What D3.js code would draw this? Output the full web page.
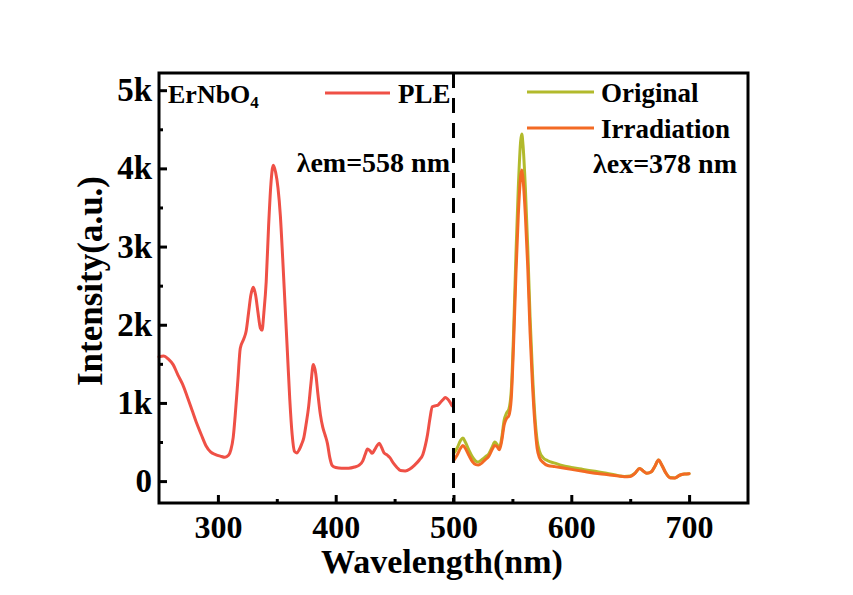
<!DOCTYPE html>
<html>
<head>
<meta charset="utf-8">
<script src="https://cdn.jsdelivr.net/npm/d3@7"></script>
<style>
  html, body { margin: 0; padding: 0; background: #fff; }
  svg text { font-family: "Liberation Serif", "Times New Roman", serif; font-weight: bold; fill: #000; }
</style>
</head>
<body>
<svg id="chart" width="853" height="595"></svg>
<script>
// Excitation spectrum (PLE, λem = 558 nm): [wavelength nm, intensity]
const pleData = [
  [250,1590],[254,1600],[258,1560],[262,1490],[266,1360],[270,1240],[274,1080],[278,910],
  [282,740],[286,590],[290,450],[294,370],[298,340],[302,320],[306,305],[309,330],[311,400],
  [313,560],[315,900],[317,1300],[319,1700],[322,1820],[324,1920],[326,2150],[328,2380],
  [330,2480],[332,2380],[334,2160],[336,1960],[337.5,1930],[339,2150],[341,2550],[343,3250],
  [345,3800],[347,4040],[349,3950],[351,3750],[353,3400],[355,2850],[357,2250],[359,1650],
  [361,1050],[363,600],[365,380],[367,360],[369,400],[371,470],[373,560],[375,740],[377,950],
  [379,1250],[381,1490],[383,1380],[385,1100],[387,850],[389,690],[391,590],[393,480],
  [395,300],[397,200],[400,175],[405,165],[411,165],[416,180],[420,205],[423,260],[425,340],
  [427,410],[429,390],[431,355],[433,400],[435,450],[437,485],[439,430],[441,360],[444,330],
  [446,300],[449,230],[452,175],[455,135],[459,130],[463,155],[467,205],[471,270],[474,340],
  [476,450],[478,600],[480,800],[482,950],[485,965],[487,975],[489,1010],[491,1040],
  [493,1070],[495,1050],[497,1010],[499,960],[500,950]
];

// Emission spectra (λex = 378 nm) before and after irradiation
const originalData = [
  [500,350],[503,420],[506,520],[508,550],[510,500],[513,400],[516,310],[519,255],[521,245],
  [524,275],[527,310],[530,350],[533,440],[535,500],[537,470],[539,420],[541,560],[543,780],
  [545,870],[547,920],[549,1150],[551,1900],[553,2900],[555,3750],[557,4350],[558,4440],
  [559,4300],[561,3750],[563,3000],[565,2100],[567,1400],[569,850],[571,520],[573,380],
  [576,300],[580,260],[586,230],[592,200],[600,175],[610,150],[620,125],[630,100],[640,70],
  [645,60],[650,65],[654,100],[658,160],[661,130],[664,100],[668,120],[671,190],[674,270],
  [677,200],[680,110],[684,45],[688,40],[692,75],[696,90],[700,95]
];
const irradiationData = [
  [500,260],[503,330],[506,420],[508,455],[510,420],[513,330],[516,250],[519,210],[521,205],
  [524,230],[527,275],[530,320],[533,410],[535,455],[537,440],[539,400],[541,520],[543,720],
  [545,800],[547,840],[549,1050],[551,1750],[553,2650],[555,3400],[557,3900],[558,3980],
  [559,3870],[561,3400],[563,2750],[565,1900],[567,1250],[569,750],[571,420],[573,300],
  [576,240],[580,200],[586,185],[592,170],[600,150],[610,125],[620,100],[630,85],[640,65],
  [645,55],[650,60],[654,100],[658,160],[661,130],[664,100],[668,120],[671,190],[674,270],
  [677,200],[680,110],[684,40],[688,40],[692,75],[696,90],[700,95]
];

const xMajorTicks = [300, 400, 500, 600, 700];
const xMinorTicks = [350, 450, 550, 650];
const yMajorTicks = [0, 1000, 2000, 3000, 4000, 5000];
const yTickLabels = ["0", "1k", "2k", "3k", "4k", "5k"];
const yMinorTicks = [500, 1500, 2500, 3500, 4500];
const splitWavelength = 500;

const colors = { ple: "#EF5046", original: "#B2BA2C", irradiation: "#F36A24" };

const svg = d3.select("#chart");
const plot = { left: 159, right: 748, top: 73, bottom: 503 };

const x = d3.scaleLinear().domain([250, 750]).range([plot.left, plot.right]);
const y = d3.scaleLinear().domain([-280, 5220]).range([plot.bottom, plot.top]);

const line = d3.line().x(d => x(d[0])).y(d => y(d[1])).curve(d3.curveMonotoneX);

// data curves
const curves = svg.append("g").attr("fill", "none").attr("stroke-width", 3)
  .attr("stroke-linejoin", "round").attr("stroke-linecap", "round");
curves.append("path").datum(pleData).attr("stroke", colors.ple).attr("d", line);
curves.append("path").datum(originalData).attr("stroke", colors.original).attr("d", line);
curves.append("path").datum(irradiationData).attr("stroke", colors.irradiation).attr("d", line);

// dashed separator between excitation and emission
svg.append("line")
  .attr("x1", x(splitWavelength)).attr("x2", x(splitWavelength))
  .attr("y1", plot.top).attr("y2", plot.bottom)
  .attr("stroke", "#000").attr("stroke-width", 3).attr("stroke-dasharray", "15,10");

// axes (ticks pointing inward)
const xAxis = svg.append("g").attr("transform", `translate(0,${plot.bottom})`)
  .call(d3.axisBottom(x).tickValues(xMajorTicks).tickSize(-8).tickPadding(12.5).tickFormat(d3.format("d")));
const xMinor = svg.append("g").attr("transform", `translate(0,${plot.bottom})`)
  .call(d3.axisBottom(x).tickValues(xMinorTicks).tickSize(-4).tickFormat(""));
const yAxis = svg.append("g").attr("transform", `translate(${plot.left},0)`)
  .call(d3.axisLeft(y).tickValues(yMajorTicks).tickSize(-8).tickPadding(7)
    .tickFormat((d, i) => yTickLabels[i]));
const yMinor = svg.append("g").attr("transform", `translate(${plot.left},0)`)
  .call(d3.axisLeft(y).tickValues(yMinorTicks).tickSize(-4).tickFormat(""));

[xAxis, xMinor, yAxis, yMinor].forEach(g => {
  g.attr("font-family", null).attr("font-size", null);
  g.select(".domain").remove();
  g.selectAll(".tick line").attr("stroke", "#000").attr("stroke-width", 3);
  g.selectAll("text").style("font-size", "33px");
});
xAxis.selectAll("text").style("font-size", "32px");

// frame
svg.append("rect").attr("x", plot.left).attr("y", plot.top)
  .attr("width", plot.right - plot.left).attr("height", plot.bottom - plot.top)
  .attr("fill", "none").attr("stroke", "#000").attr("stroke-width", 3);

// axis titles
svg.append("text").attr("x", 442).attr("y", 573).attr("text-anchor", "middle")
  .style("font-size", "34px").text("Wavelength(nm)");
svg.append("text").attr("transform", "translate(102,281) rotate(-90)").attr("text-anchor", "middle")
  .style("font-size", "35px").text("Intensity(a.u.)");

// sample name
const sampleLabel = svg.append("text").attr("x", 168).attr("y", 103).style("font-size", "26px");
sampleLabel.append("tspan").text("ErNbO");
sampleLabel.append("tspan").attr("dy", 5).style("font-size", "17px").text("4");

// legend
const legend = [
  { label: "PLE", color: colors.ple, x1: 325, x2: 390, y: 93, tx: 398, ty: 103 },
  { label: "Original", color: colors.original, x1: 527, x2: 594, y: 92, tx: 601, ty: 102 },
  { label: "Irradiation", color: colors.irradiation, x1: 527, x2: 594, y: 128, tx: 601, ty: 138 }
];
legend.forEach(l => {
  svg.append("line").attr("x1", l.x1).attr("x2", l.x2).attr("y1", l.y).attr("y2", l.y)
    .attr("stroke", l.color).attr("stroke-width", 3);
  svg.append("text").attr("x", l.tx).attr("y", l.ty).style("font-size", "27px").text(l.label);
});

// excitation / emission wavelengths
svg.append("text").attr("x", 450).attr("y", 172).attr("text-anchor", "end")
  .style("font-size", "28px").text("λem=558 nm");
svg.append("text").attr("x", 737).attr("y", 173).attr("text-anchor", "end")
  .style("font-size", "28px").text("λex=378 nm");
</script>
</body>
</html>
